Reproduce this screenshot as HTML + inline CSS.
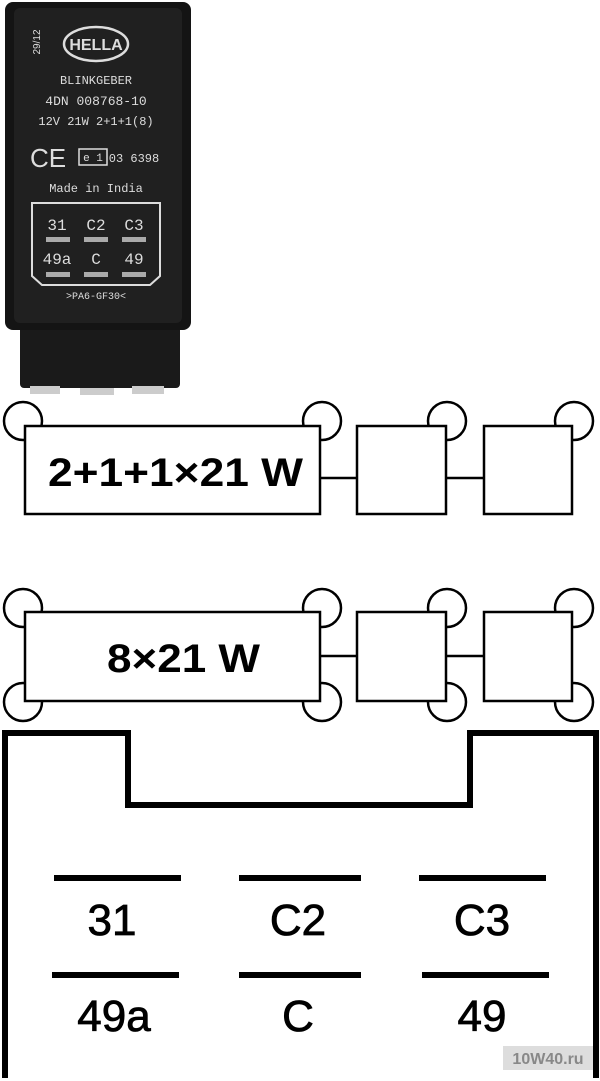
<!DOCTYPE html>
<html><head><style>
body{margin:0;width:600px;height:1081px;background:#fff;overflow:hidden;position:relative;font-family:"Liberation Sans",sans-serif}
.p{position:absolute}
</style></head><body>
<svg class="p" style="left:0;top:0" width="600" height="1081" viewBox="0 0 600 1081">
<rect x="20" y="320" width="160" height="68" rx="4" fill="#1a1a1a"/>
<rect x="30" y="386" width="30" height="8" fill="#ccc"/><rect x="80" y="388" width="34" height="7" fill="#ccc"/><rect x="132" y="386" width="32" height="8" fill="#ccc"/>
<rect x="5" y="2" width="186" height="328" rx="8" fill="#141414"/>
<rect x="14" y="8" width="168" height="315" rx="6" fill="#202020"/>
<ellipse cx="96" cy="44" rx="32" ry="17" fill="none" stroke="#ddd" stroke-width="2.5"/>
<text x="96" y="50" font-size="16" font-weight="bold" fill="#ddd" text-anchor="middle">HELLA</text>
<text x="40" y="42" font-size="10" fill="#ddd" transform="rotate(-90 40 42)" text-anchor="middle">29/12</text>
<g font-family="Liberation Mono" fill="#ddd" text-anchor="middle" font-size="12">
<text x="96" y="84">BLINKGEBER</text>
<text x="96" y="105" font-size="13">4DN 008768-10</text>
<text x="96" y="125">12V 21W 2+1+1(8)</text>
<text x="134" y="162">03 6398</text>
<text x="96" y="192">Made in India</text>
<text x="96" y="299" font-size="10">&gt;PA6-GF30&lt;</text>
<g font-size="16"><text x="57" y="230">31</text><text x="96" y="230">C2</text><text x="134" y="230">C3</text>
<text x="57" y="264">49a</text><text x="96" y="264">C</text><text x="134" y="264">49</text></g>
</g>
<text x="30" y="167" font-size="26" fill="#ddd">CE</text>
<rect x="79" y="149" width="28" height="16" fill="none" stroke="#ddd" stroke-width="1.5"/>
<text x="93" y="161" font-size="11" fill="#ddd" text-anchor="middle" font-family="Liberation Mono">e 1</text>
<path d="M32 203 H160 V276 L150 285 H42 L32 276 Z" fill="none" stroke="#ddd" stroke-width="2"/>
<g fill="#aaa"><rect x="46" y="237" width="24" height="5"/><rect x="84" y="237" width="24" height="5"/><rect x="122" y="237" width="24" height="5"/>
<rect x="46" y="272" width="24" height="5"/><rect x="84" y="272" width="24" height="5"/><rect x="122" y="272" width="24" height="5"/></g>

<g fill="none" stroke="#000" stroke-width="2.5">
<circle cx="23" cy="421" r="19"/><circle cx="322" cy="421" r="19"/><circle cx="447" cy="421" r="19"/><circle cx="574" cy="421" r="19"/>
<circle cx="23" cy="608" r="19"/><circle cx="322" cy="608" r="19"/><circle cx="447" cy="608" r="19"/><circle cx="574" cy="608" r="19"/>
<circle cx="23" cy="702" r="19"/><circle cx="322" cy="702" r="19"/><circle cx="447" cy="702" r="19"/><circle cx="574" cy="702" r="19"/>
</g>
<g fill="#fff" stroke="#000" stroke-width="2.5">
<rect x="25" y="426" width="295" height="88"/><rect x="357" y="426" width="89" height="88"/><rect x="484" y="426" width="88" height="88"/>
<rect x="25" y="612" width="295" height="89"/><rect x="357" y="612" width="89" height="89"/><rect x="484" y="612" width="88" height="89"/>
<line x1="320" y1="478" x2="357" y2="478"/><line x1="446" y1="478" x2="484" y2="478"/>
<line x1="320" y1="656" x2="357" y2="656"/><line x1="446" y1="656" x2="484" y2="656"/>
</g>
<text x="48" y="486" font-size="40" font-weight="bold" textLength="255" lengthAdjust="spacingAndGlyphs">2+1+1×21 W</text>
<text x="107" y="672" font-size="40" font-weight="bold" textLength="153" lengthAdjust="spacingAndGlyphs">8×21 W</text>
<path d="M5 1078 V733 H128 V805 H470 V733 H596 V1078" fill="none" stroke="#000" stroke-width="6"/>
<g fill="#000"><rect x="54" y="875" width="127" height="6"/><rect x="239" y="875" width="122" height="6"/><rect x="419" y="875" width="127" height="6"/>
<rect x="52" y="972" width="127" height="6"/><rect x="239" y="972" width="122" height="6"/><rect x="422" y="972" width="127" height="6"/></g>
<g font-size="44" text-anchor="middle" stroke="#000" stroke-width="0.8">
<text x="112" y="935">31</text><text x="298" y="935">C2</text><text x="482" y="935">C3</text>
<text x="114" y="1031">49a</text><text x="298" y="1031">C</text><text x="482" y="1031">49</text></g>
<rect x="503" y="1046" width="90" height="24" fill="#ddd"/>
<text x="548" y="1064" font-size="16" font-weight="bold" fill="#888" text-anchor="middle">10W40.ru</text>
</svg>
</body></html>
